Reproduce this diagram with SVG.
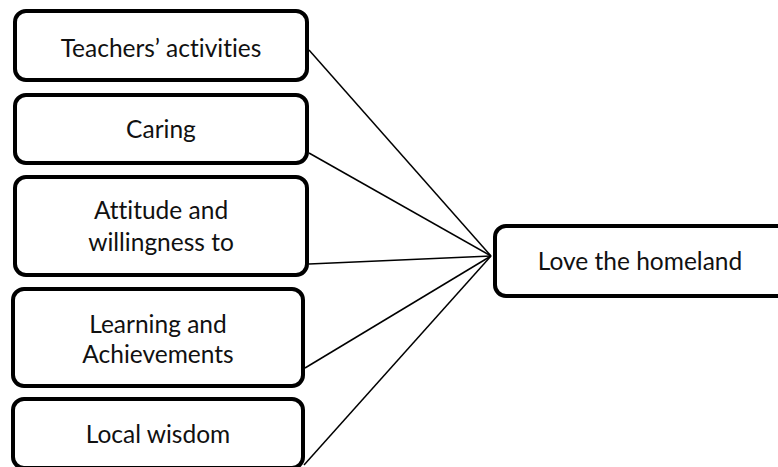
<svg xmlns="http://www.w3.org/2000/svg" width="778" height="467" viewBox="0 0 778 467">
<style>
.box{fill:#fff;stroke:#000;stroke-width:4}
.lbl{font-family:Lato,"Open Sans","Liberation Sans",sans-serif;font-size:24.5px;fill:#111;text-anchor:middle;font-variant-ligatures:none}
.con{stroke:#000;stroke-width:1.5;fill:none}
</style>
<rect width="778" height="467" fill="#fff"/>
<g id="connectors">
<line class="con" x1="309" y1="50" x2="491" y2="256"/>
<line class="con" x1="309" y1="153" x2="491" y2="256"/>
<line class="con" x1="309" y1="264" x2="491" y2="256"/>
<line class="con" x1="305" y1="368" x2="491" y2="256"/>
<line class="con" x1="304" y1="465" x2="491" y2="256"/>
</g>
<g id="n1"><rect class="box" x="15" y="11" width="292" height="69" rx="11"/><text class="lbl" x="161" y="57">Teachers’ activities</text></g>
<g id="n2"><rect class="box" x="15" y="95" width="292" height="68" rx="11"/><text class="lbl" x="161" y="138">Caring</text></g>
<g id="n3"><rect class="box" x="15" y="177" width="292" height="98" rx="11"/><text class="lbl" x="161" y="219">Attitude and</text><text class="lbl" x="161" y="251">willingness to</text></g>
<g id="n4"><rect class="box" x="13" y="289" width="290" height="97" rx="11"/><text class="lbl" x="158" y="333">Learning and</text><text class="lbl" x="158" y="363">Achievements</text></g>
<g id="n5"><rect class="box" x="13" y="399" width="290" height="69" rx="11"/><text class="lbl" x="158" y="443">Local wisdom</text></g>
<g id="n6"><rect class="box" x="495" y="226" width="300" height="70" rx="11"/><text class="lbl" x="640" y="270">Love the homeland</text></g>
</svg>
